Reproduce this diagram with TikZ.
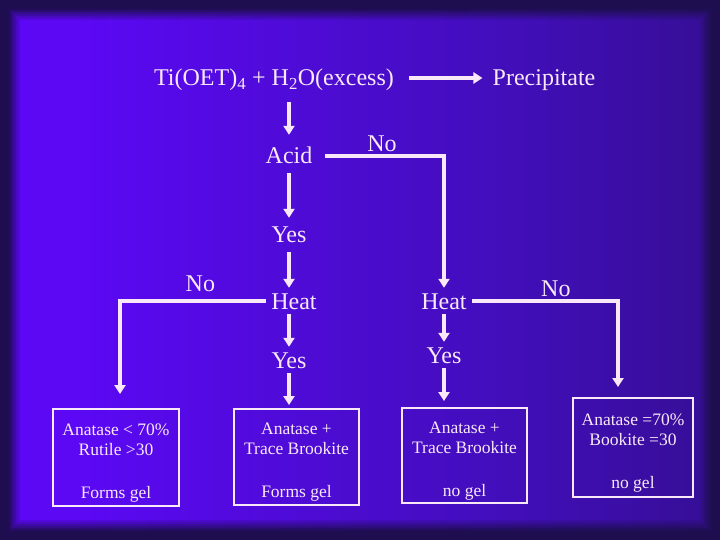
\documentclass[tikz,border=0pt]{standalone}
\usepackage{fontspec}
\setmainfont{Liberation Serif}
\usepackage{xcolor}
\usetikzlibrary{arrows.meta,positioning,calc}
\definecolor{ink}{RGB}{248,232,248}
\definecolor{bgleft}{RGB}{92,8,245}
\definecolor{bgmid}{RGB}{66,14,186}
\definecolor{bgright}{RGB}{32,14,88}
\definecolor{frame}{RGB}{30,14,80}
\pgfdeclarehorizontalshading{bgshade}{100bp}{color(0bp)=(bgleft); color(30bp)=(bgleft); color(60bp)=(bgmid); color(100bp)=(bgright)}

\begin{document}
\begin{tikzpicture}[
  x=1pt, y=-1pt,
  every node/.style={text=ink, font=\fontsize{24}{28}\selectfont},
  word/.style={anchor=base, text height=16pt, text depth=0pt, inner xsep=5pt, inner ysep=5pt},
  result/.style={draw=ink, line width=2pt, inner sep=0pt, align=center, font=\fontsize{17.5}{20}\selectfont},
  arrow/.style={draw=ink, line width=4pt, -{Triangle[length=9pt,width=11pt]}},
  lbl/.style={anchor=base, inner sep=0pt}
]
\useasboundingbox (0,0) rectangle (720,540);
\shade[shading=bgshade] (0,0) rectangle (720,540);
\foreach \k [evaluate=\k as \op using {min(1,1.6*(1-\k/10))}] in {0,...,9}
  \draw[frame, line width=2.2pt, opacity=\op] (\k*2+1,\k*2+1) rectangle (719-\k*2,539-\k*2);

\node[word] (reac) at (274,86) {Ti(OET)\textsubscript{4} + H\textsubscript{2}O(excess)};
\node[word] (prec) at (544,86) {Precipitate};
\node[word] (acid) at (289,164) {Acid};
\node[word] (yes1) at (289,243) {Yes};
\node[word] (heatL) at (294,309) {Heat};
\node[word] (yesL) at (289,368) {Yes};
\node[word] (heatR) at (444,309) {Heat};
\node[word] (yesR) at (444,363) {Yes};
\coordinate (cL) at (120,301);
\coordinate (cR) at (618,301);

\node[result, minimum width=126pt, minimum height=97pt] (b1) at (116,457.5) {\rule{0pt}{22pt}Anatase < 70\%\\Rutile >30\\[23pt]Forms gel};
\node[result, minimum width=125pt, minimum height=96pt] (b2) at (296.5,457) {\rule{0pt}{22pt}Anatase +\\Trace Brookite\\[23pt]Forms gel};
\node[result, minimum width=125pt, minimum height=95pt] (b3) at (464.5,455.5) {\rule{0pt}{22pt}Anatase +\\Trace Brookite\\[23pt]no gel};
\node[result, minimum width=120pt, minimum height=99pt] (b4) at (633,447.5) {\rule{0pt}{22pt}Anatase =70\%\\Bookite =30\\[23pt]no gel};

\draw[arrow, shorten <=10pt, shorten >=5pt] (reac) -- (prec);
\draw[arrow, shorten <=11pt, shorten >=8pt] (acid |- reac.south) -- (acid);
\draw[arrow, shorten <=4pt, shorten >=4pt] (acid) -- (yes1);
\draw[arrow, shorten <=4pt] (yes1) -- (yes1 |- heatL.north);
\draw[arrow] (yesL |- heatL.south) -- (yesL);
\draw[arrow, shorten >=3pt] (yesL) -- (yesL |- b2.north);
\draw[arrow, shorten <=7pt] (acid) -- node[lbl, pos=.51, yshift=4pt] {No} (heatR |- acid) -- (heatR);
\draw[arrow, shorten >=14pt] (heatL) -- node[lbl, pos=.45, yshift=10pt] {No} (cL) -- (cL |- b1.north);
\draw[arrow, shorten >=10pt] (heatR) -- node[lbl, pos=.575, yshift=5pt] {No} (cR) -- (cR |- b4.north);
\draw[arrow] (heatR) -- (yesR);
\draw[arrow, shorten >=6pt] (yesR) -- (yesR |- b3.north);
\end{tikzpicture}
\end{document}
